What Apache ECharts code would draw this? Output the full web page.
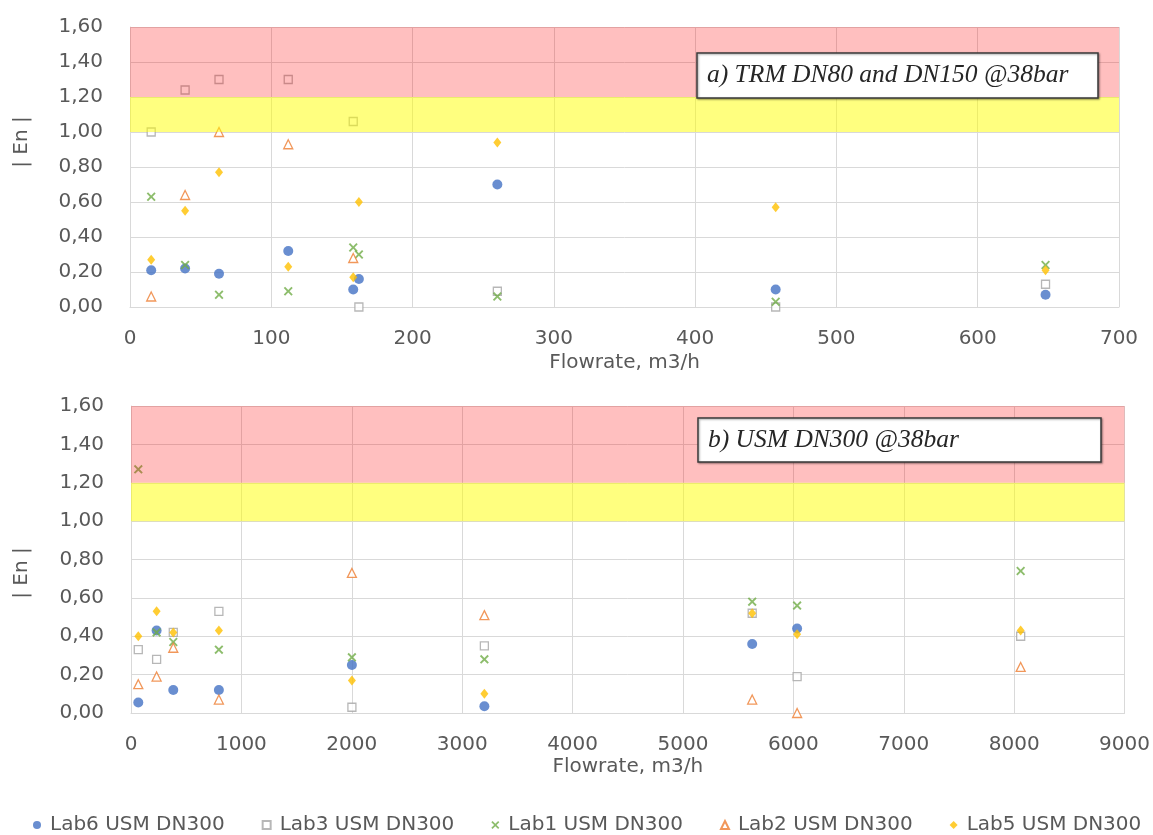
<!DOCTYPE html>
<html>
<head>
<meta charset="utf-8">
<script src="https://cdn.jsdelivr.net/npm/echarts@6/dist/echarts.min.js"></script>
<style>
html, body { margin: 0; padding: 0; background: #ffffff; }
#chart { width: 1153px; height: 835px; }
</style>
</head>
<body>
<div id="chart"></div>
<script>
// Series names (shared legend for both panels)
const seriesNames = ['Lab6 USM DN300', 'Lab3 USM DN300', 'Lab1 USM DN300', 'Lab2 USM DN300', 'Lab5 USM DN300'];

// Panel a) TRM DN80 and DN150 @38bar — flowrate (m3/h) and |En|
const flowA = [15, 39, 63, 112, 158, 162, 260, 457, 648];
const lab6A = [0.21, 0.22, 0.19, 0.32, 0.10, 0.16, 0.70, 0.10, 0.07];
const lab3A = [1.00, 1.24, 1.30, 1.30, 1.06, 0.00, 0.09, 0.00, 0.13];
const lab1A = [0.63, 0.24, 0.07, 0.09, 0.34, 0.30, 0.06, 0.03, 0.24];
const flowA2 = [15, 39, 63, 112, 158];
const lab2A = [0.06, 0.64, 1.00, 0.93, 0.28];
const lab5A = [0.27, 0.55, 0.77, 0.23, 0.17, 0.60, 0.94, 0.57, 0.21];

// Panel b) USM DN300 @38bar — flowrate (m3/h) and |En|
const flowB = [66, 232, 383, 796, 2001, 3201, 5627, 6034, 8059];
const flowB6 = [66, 232, 383, 796, 2001, 3201, 5627, 6034];
const lab6B = [0.055, 0.43, 0.12, 0.12, 0.25, 0.035, 0.36, 0.44];
const lab3B = [0.33, 0.28, 0.42, 0.53, 0.03, 0.35, 0.52, 0.19, 0.40];
const lab1B = [1.27, 0.42, 0.37, 0.33, 0.29, 0.28, 0.58, 0.56, 0.74];
const lab2B = [0.15, 0.19, 0.34, 0.07, 0.73, 0.51, 0.07, 0.00, 0.24];
const lab5B = [0.40, 0.53, 0.42, 0.43, 0.17, 0.10, 0.52, 0.41, 0.43];

// Acceptance bands on |En|: warning 1.0–1.2, failure 1.2–1.6
const warnBand = [1.0, 1.2];
const failBand = [1.2, 1.6];

// Panel captions and axis titles
const captionA = 'a) TRM DN80 and DN150 @38bar';
const captionB = 'b) USM DN300 @38bar';
const xTitle = 'Flowrate, m3/h';
const yTitle = '| En |';

const pts = (xs, ys) => xs.map((x, i) => [x, ys[i]]);

const FONT = 'DejaVu Sans';
const TXT = '#595959';
const GRID = '#D9D9D9';

const crossPath = 'path://M0,1.5L1.5,0L5,3.5L8.5,0L10,1.5L6.5,5L10,8.5L8.5,10L5,6.5L1.5,10L0,8.5L3.5,5Z';

const styles = [
  { symbol: 'circle', symbolSize: 10, itemStyle: { color: '#4472C4' } },
  { symbol: 'rect', symbolSize: 8, itemStyle: { color: '#ffffff', borderColor: '#A5A5A5', borderWidth: 1.3 } },
  { symbol: crossPath, symbolSize: 9, itemStyle: { color: '#70AD47' } },
  { symbol: 'triangle', symbolSize: 9, itemStyle: { color: '#ffffff', borderColor: '#ED7D31', borderWidth: 1.3 } },
  { symbol: 'diamond', symbolSize: [8, 10], itemStyle: { color: '#FFC000' } }
];

const panelA = [pts(flowA, lab6A), pts(flowA, lab3A), pts(flowA, lab1A), pts(flowA2, lab2A), pts(flowA, lab5A)];
const panelB = [pts(flowB6, lab6B), pts(flowB, lab3B), pts(flowB, lab1B), pts(flowB, lab2B), pts(flowB, lab5B)];

function scatterSeries(panel, idx) {
  return panel.map((data, i) => Object.assign({
    type: 'scatter',
    name: seriesNames[i],
    xAxisIndex: idx,
    yAxisIndex: idx,
    data: data,
    emphasis: { disabled: true }
  }, styles[i]));
}

// Translucent bands laid over the markers
function bandSeries(idx) {
  return {
    type: 'scatter',
    name: 'bands' + idx,
    xAxisIndex: idx,
    yAxisIndex: idx,
    data: [],
    silent: true,
    z: 20,
    markArea: {
      silent: true,
      z: 20,
      data: [
        [{ yAxis: warnBand[0], itemStyle: { color: 'rgba(255,255,0,0.5)' } }, { yAxis: warnBand[1] }],
        [{ yAxis: failBand[0], itemStyle: { color: 'rgba(255,0,0,0.25)' } }, { yAxis: failBand[1] }]
      ]
    }
  };
}

function xAxisCfg(idx, max, interval) {
  return {
    gridIndex: idx, type: 'value', min: 0, max: max, interval: interval,
    name: xTitle, nameLocation: 'middle', nameGap: idx === 0 ? 46 : 44,
    nameTextStyle: { color: TXT, fontSize: 20, fontFamily: FONT },
    axisLine: { show: true, lineStyle: { color: GRID } },
    axisTick: { show: false },
    axisLabel: { color: TXT, fontSize: 20, fontFamily: FONT, margin: 22, formatter: v => String(v) },
    splitLine: { show: true, lineStyle: { color: GRID, width: 1 } }
  };
}

function yAxisCfg(idx) {
  return {
    gridIndex: idx, type: 'value', min: 0, max: 1.6, interval: 0.2,
    axisLine: { show: true, lineStyle: { color: GRID } },
    axisTick: { show: false },
    axisLabel: {
      color: TXT, fontSize: 20, fontFamily: FONT, margin: 27,
      formatter: v => v.toFixed(2).replace('.', ',')
    },
    splitLine: { show: true, lineStyle: { color: GRID, width: 1 } }
  };
}

function caption(x, y, w, h, text) {
  return {
    type: 'group', z: 100,
    children: [
      { type: 'rect', z: 100, shape: { x: x, y: y, width: w, height: h },
        style: { fill: '#ffffff', stroke: '#3a3a3a', lineWidth: 1.5,
                 shadowBlur: 2, shadowColor: 'rgba(0,0,0,0.35)', shadowOffsetX: 1, shadowOffsetY: 1 } },
      { type: 'text', z: 101, x: x + 10, y: y + h / 2,
        style: { text: text, fill: '#262626', font: 'italic 25.5px "Liberation Serif"',
                 textAlign: 'left', textVerticalAlign: 'middle' } }
    ]
  };
}

function yTitleText(y) {
  return {
    type: 'text', z: 100, x: 22, y: y, rotation: Math.PI / 2,
    style: { text: yTitle, fill: TXT, font: '20px "DejaVu Sans"', textAlign: 'center', textVerticalAlign: 'middle' }
  };
}

const chart = echarts.init(document.getElementById('chart'), null, { renderer: 'canvas' });
chart.setOption({
  backgroundColor: '#ffffff',
  animation: false,
  grid: [
    { left: 130, right: 34, top: 27, height: 280 },
    { left: 131, right: 26, top: 406, height: 307 }
  ],
  xAxis: [xAxisCfg(0, 700, 100), xAxisCfg(1, 9000, 1000)],
  yAxis: [yAxisCfg(0), yAxisCfg(1)],
  legend: {
    data: seriesNames,
    left: 28, top: 810,
    itemWidth: 8, itemHeight: 8, itemGap: 37,
    textStyle: { color: TXT, fontSize: 20, fontFamily: FONT, padding: [0, 0, 0, 4] }
  },
  graphic: [
    caption(697, 53, 401, 45, captionA),
    caption(698, 418, 403, 44, captionB),
    yTitleText(142),
    yTitleText(573)
  ],
  series: [].concat(scatterSeries(panelA, 0), scatterSeries(panelB, 1), [bandSeries(0), bandSeries(1)])
});
</script>
</body>
</html>
